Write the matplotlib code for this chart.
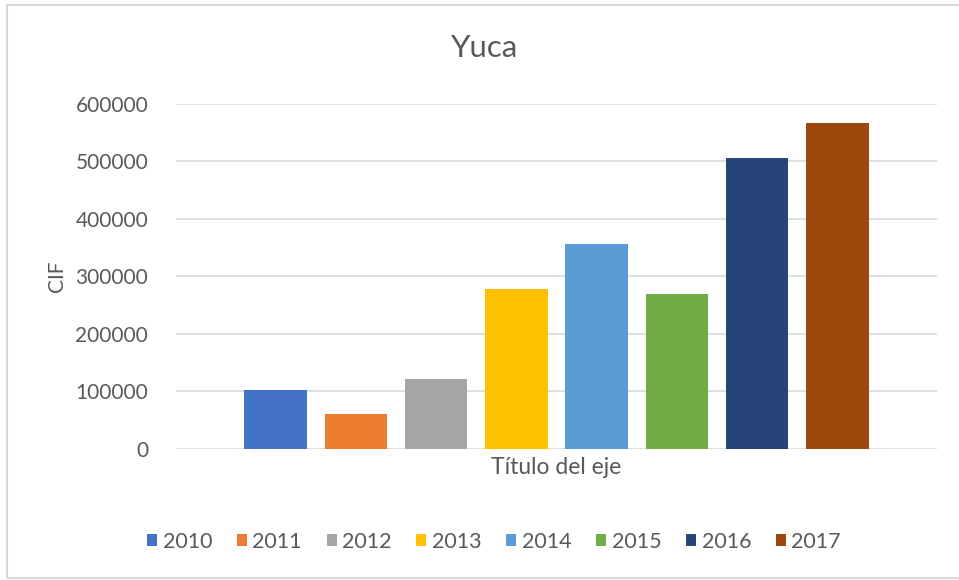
import matplotlib.pyplot as plt
from matplotlib.patches import Rectangle

# datos
years = ["2010", "2011", "2012", "2013", "2014", "2015", "2016", "2017"]
cif = [102000, 60000, 122000, 277500, 355500, 268500, 506500, 567000]
colors = ["#4472C4", "#ED7D31", "#A5A5A5", "#FFC000",
          "#5B9BD5", "#70AD47", "#264478", "#9E480E"]
yticks = [0, 100000, 200000, 300000, 400000, 500000, 600000]

plt.rcParams["font.family"] = ["Lato", "DejaVu Sans"]
txt = "#595959"

fig = plt.figure(figsize=(9.59, 5.8), dpi=100)
ax = fig.add_axes([0.1835, 0.2259, 0.7935, 0.5953])

for i, (yr, v, c) in enumerate(zip(years, cif, colors)):
    ax.bar(i, v, width=0.777, color=c, label=yr, zorder=3)

ax.set_xlim(-1.24, 8.24)
ax.set_ylim(0, 600000)
ax.set_yticks(yticks)
ax.set_yticklabels([str(t) for t in yticks], fontsize=15, color=txt)
ax.set_xticks([])
ax.tick_params(axis="y", length=0, pad=20)
ax.grid(axis="y", color="#D9D9D9", linewidth=1.2, zorder=0)
for s in ax.spines.values():
    s.set_visible(False)

fig.text(485 / 959, 1 - 48 / 580, "Yuca", fontsize=22.5, color=txt,
         ha="center", va="center")
ax.set_ylabel("CIF", fontsize=15, color=txt, va="center")
ax.yaxis.set_label_coords(-0.156, 0.5)
ax.set_xlabel("Título del eje", fontsize=16.5, color=txt, labelpad=6)

handles, labels = ax.get_legend_handles_labels()
fig.legend(handles, labels, loc="center", ncol=8, frameon=False,
           bbox_to_anchor=(494 / 959, 1 - 542 / 580), fontsize=15.5,
           labelcolor=txt, handlelength=0.47, handleheight=0.47,
           handletextpad=0.25, columnspacing=1.15)

# borde del gráfico
fig.patches.append(Rectangle((7 / 959, 2 / 580), 1.0, 1 - 7 / 580,
                             transform=fig.transFigure, fill=False,
                             edgecolor="#D9D9D9", linewidth=1.5))

fig.savefig("out.png", dpi=100)
